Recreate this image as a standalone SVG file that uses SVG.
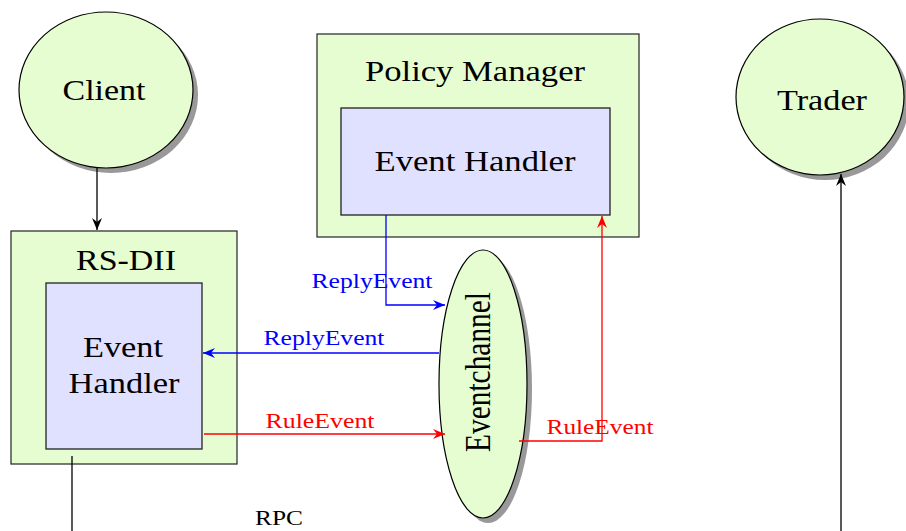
<svg xmlns="http://www.w3.org/2000/svg" width="906" height="531" viewBox="0 0 906 531">
<defs>
<style>
.t{font-family:"Liberation Serif","Times New Roman",serif;fill:#000}
.big{font-size:30px}
.lbl{font-size:22px}
.box{fill:#e5fdd0;stroke:#333;stroke-width:1.3}
.inner{fill:#e0e0ff;stroke:#222;stroke-width:1.3}
.ell{fill:#e5fdd0;stroke:#000;stroke-width:1.2}
.sh{fill:#999}
.blue{stroke:#0000ff;stroke-width:1.3;fill:none}
.red{stroke:#ff0000;stroke-width:1.3;fill:none}
.blk{stroke:#000;stroke-width:1.3;fill:none}
</style>
<marker id="ab" viewBox="0 0 12 10" refX="12" refY="5" markerWidth="12" markerHeight="10" markerUnits="userSpaceOnUse" orient="auto"><path d="M0,0 L12,5 L0,10 L4,5 Z" fill="#0000ff"/></marker>
<marker id="ar" viewBox="0 0 12 10" refX="12" refY="5" markerWidth="12" markerHeight="10" markerUnits="userSpaceOnUse" orient="auto"><path d="M0,0 L12,5 L0,10 L4,5 Z" fill="#ff0000"/></marker>
<marker id="ak" viewBox="0 0 12 10" refX="12" refY="5" markerWidth="12" markerHeight="10" markerUnits="userSpaceOnUse" orient="auto"><path d="M0,0 L12,5 L0,10 L4,5 Z" fill="#000"/></marker>
</defs>
<rect width="906" height="531" fill="#fff"/>

<g id="client">
<ellipse class="sh" cx="111" cy="95" rx="87" ry="78"/>
<ellipse class="ell" cx="106" cy="90" rx="87" ry="78"/>
<text class="t big" x="104" y="100" text-anchor="middle" textLength="83" lengthAdjust="spacingAndGlyphs">Client</text>
</g>

<g id="trader">
<ellipse class="sh" cx="825" cy="102" rx="84" ry="78"/>
<ellipse class="ell" cx="820" cy="97" rx="84" ry="78"/>
<text class="t big" x="822" y="110" text-anchor="middle" textLength="90" lengthAdjust="spacingAndGlyphs">Trader</text>
</g>

<g id="policy-manager">
<rect class="box" x="317" y="34" width="322" height="203"/>
<text class="t big" x="475" y="81" text-anchor="middle" textLength="220" lengthAdjust="spacingAndGlyphs">Policy Manager</text>
<rect class="inner" x="341" y="108" width="269" height="107"/>
<text class="t big" x="475" y="171" text-anchor="middle" textLength="201" lengthAdjust="spacingAndGlyphs">Event Handler</text>
</g>

<g id="rs-dii">
<rect class="box" x="11" y="231" width="226" height="233"/>
<text class="t big" x="126" y="270" text-anchor="middle" textLength="100" lengthAdjust="spacingAndGlyphs">RS-DII</text>
<rect class="inner" x="46" y="283" width="156" height="166"/>
<text class="t big" x="123" y="357" text-anchor="middle" textLength="80" lengthAdjust="spacingAndGlyphs">Event</text>
<text class="t big" x="124" y="393" text-anchor="middle" textLength="111" lengthAdjust="spacingAndGlyphs">Handler</text>
</g>

<g id="eventchannel">
<ellipse class="sh" cx="488" cy="389" rx="44" ry="134"/>
<ellipse class="ell" cx="483" cy="384" rx="44" ry="134"/>
<text class="t" font-size="35" transform="translate(490,372) rotate(-90)" text-anchor="middle" textLength="160" lengthAdjust="spacingAndGlyphs">Eventchannel</text>
</g>

<g id="connectors">
<line class="blk" x1="97" y1="168" x2="97" y2="230" marker-end="url(#ak)"/>
<line class="blk" x1="841" y1="531" x2="841" y2="174" marker-end="url(#ak)"/>
<line class="blk" x1="72" y1="456" x2="72" y2="531"/>
<polyline class="blue" points="386,215 386,305 445,305" marker-end="url(#ab)"/>
<line class="blue" x1="439" y1="353" x2="203" y2="353" marker-end="url(#ab)"/>
<line class="red" x1="204" y1="434" x2="445" y2="434" marker-end="url(#ar)"/>
<polyline class="red" points="519,441 602,441 602,216" marker-end="url(#ar)"/>
<text class="t lbl" x="372" y="288" text-anchor="middle" style="fill:#0000ff" textLength="121" lengthAdjust="spacingAndGlyphs">ReplyEvent</text>
<text class="t lbl" x="324" y="345" text-anchor="middle" style="fill:#0000ff" textLength="121" lengthAdjust="spacingAndGlyphs">ReplyEvent</text>
<text class="t lbl" x="320" y="428" text-anchor="middle" style="fill:#ff0000" textLength="109" lengthAdjust="spacingAndGlyphs">RuleEvent</text>
<text class="t lbl" x="600" y="434" text-anchor="middle" style="fill:#ff0000" textLength="107" lengthAdjust="spacingAndGlyphs">RuleEvent</text>
<text class="t" font-size="20" x="279" y="525" text-anchor="middle" textLength="48" lengthAdjust="spacingAndGlyphs">RPC</text>
</g>
</svg>
